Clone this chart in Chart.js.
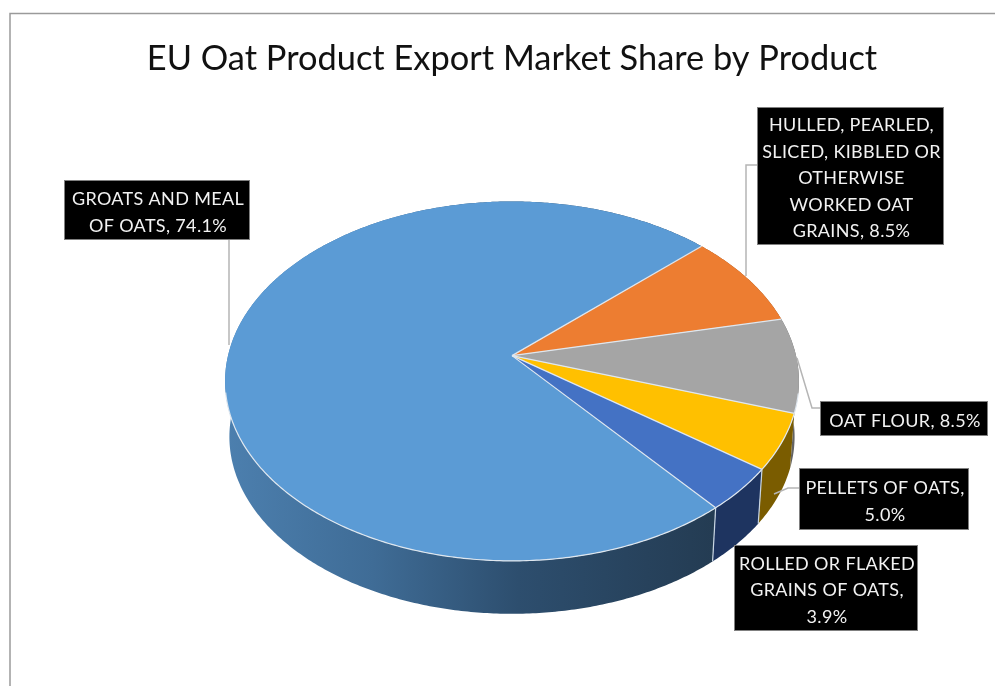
<!DOCTYPE html>
<html>
<head>
<meta charset="utf-8">
<style>
  html, body { margin: 0; background: #fff; }
  canvas { display: block; }
</style>
<script src="https://cdn.jsdelivr.net/npm/chart.js@4/dist/chart.umd.min.js"></script>
</head>
<body>
<canvas id="chart" width="995" height="686"></canvas>
<script>
const TITLE = "EU Oat Product Export Market Share by Product";

const categories = [
  "GROATS AND MEAL OF OATS",
  "HULLED, PEARLED, SLICED, KIBBLED OR OTHERWISE WORKED OAT GRAINS",
  "OAT FLOUR",
  "PELLETS OF OATS",
  "ROLLED OR FLAKED GRAINS OF OATS",
];
const shares = [74.1, 8.5, 8.5, 5.0, 3.9];

// label wrapping as in the original, {v} is replaced by the share
const labelLines = [
  ["GROATS AND MEAL", "OF OATS, {v}"],
  ["HULLED, PEARLED,", "SLICED, KIBBLED OR", "OTHERWISE", "WORKED OAT", "GRAINS, {v}"],
  ["OAT FLOUR, {v}"],
  ["PELLETS OF OATS,", "{v}"],
  ["ROLLED OR FLAKED", "GRAINS OF OATS,", "{v}"],
];

const topColors = ["#5B9BD5", "#ED7D31", "#A5A5A5", "#FFC000", "#4472C4"];
const wallColors = [null, "#8a4a1c", "#636363", "#7a5c00", "#1e3460"];

// ---------- layout of the callouts ----------

const boxes = [
  { x: 65,  y: 181, w: 184, h: 58 },
  { x: 758, y: 108, w: 185, h: 136 },
  { x: 821, y: 402, w: 166, h: 33 },
  { x: 800, y: 469, w: 168, h: 60 },
  { x: 735, y: 546, w: 182, h: 84 },
];
const leaders = [
  [[229, 239], [229, 345]],
  [[757, 165], [746, 165], [746, 276]],
  [[797, 358], [812, 408], [821, 408]],
  [[774, 494], [788, 488], [800, 488]],
  [],
];

// ---------- 3D look ----------

const PERSPECTIVE = 0.142;  // near edge bigger than far edge
const SQUASH = 0.62;        // tilt of the disc
const ROTATION = 140.3;     // first slice angle, degrees
const LOW_SCALE = 0.985;    // lower rim is a bit smaller
const LOW_DROP = 56;        // and this many px further down

function project(arc, angle, low) {
  const u = Math.cos(angle), v = Math.sin(angle);
  const w = 1 / (1 - PERSPECTIVE * v);
  const r = arc.outerRadius;
  const x = r * u * w, y = r * SQUASH * v * w;
  if (low) return [arc.x + x * LOW_SCALE, arc.y + y * LOW_SCALE + LOW_DROP];
  return [arc.x + x, arc.y + y];
}

function rimAngles(arc) {
  const out = [];
  const n = Math.max(2, Math.ceil((arc.endAngle - arc.startAngle) / 0.01));
  for (let i = 0; i <= n; i++) out.push(arc.startAngle + (arc.endAngle - arc.startAngle) * i / n);
  return out;
}

function rimPoints(arc, low) {
  return rimAngles(arc).map(a => project(arc, a, low));
}

function tracePath(ctx, pts) {
  ctx.beginPath();
  pts.forEach((p, i) => (i ? ctx.lineTo(p[0], p[1]) : ctx.moveTo(p[0], p[1])));
}

const pie3d = {
  id: "pie3d",
  beforeDraw(chart) {
    const ctx = chart.ctx;
    ctx.save();
    ctx.strokeStyle = "#9a9a9a";
    ctx.lineWidth = 1.5;
    ctx.strokeRect(10, 13.5, 1100, 1100);
    ctx.restore();
  },
  // the arcs come from the doughnut controller, only the painting is replaced
  beforeDatasetDraw(chart, args) {
    const ctx = chart.ctx;
    const arcs = args.meta.data;
    ctx.save();

    const grad = ctx.createLinearGradient(228, 0, 712, 0);
    grad.addColorStop(0, "#4c7fae");
    grad.addColorStop(0.3, "#3f6c96");
    grad.addColorStop(0.6, "#2d4e6e");
    grad.addColorStop(1, "#243c53");

    arcs.forEach((arc, i) => {
      tracePath(ctx, rimPoints(arc, false).concat(rimPoints(arc, true).reverse()));
      ctx.closePath();
      ctx.fillStyle = wallColors[i] || grad;
      ctx.fill();
    });

    // seams between wall pieces
    ctx.strokeStyle = "#c9d6e3";
    ctx.lineWidth = 1.2;
    arcs.forEach(arc => {
      if (Math.sin(arc.startAngle) <= 0.4) return;
      tracePath(ctx, [project(arc, arc.startAngle, false), project(arc, arc.startAngle, true)]);
      ctx.stroke();
    });

    arcs.forEach(arc => {
      tracePath(ctx, [[arc.x, arc.y]].concat(rimPoints(arc, false)));
      ctx.closePath();
      ctx.fillStyle = arc.options.backgroundColor;
      ctx.fill();
    });

    // light edges: the spokes and the front of the rim only
    ctx.strokeStyle = "#dfe7ef";
    ctx.lineWidth = 1.2;
    ctx.lineJoin = "round";
    arcs.forEach(arc => {
      tracePath(ctx, [[arc.x, arc.y], project(arc, arc.startAngle, false)]);
      ctx.stroke();
      const front = rimAngles(arc).filter(a => Math.sin(a) > 0.2).map(a => project(arc, a, false));
      if (front.length > 1) {
        tracePath(ctx, front);
        ctx.stroke();
      }
    });
    ctx.restore();
    return false;
  },
  afterDraw(chart) {
    const ctx = chart.ctx;
    ctx.save();
    ctx.strokeStyle = "#b5b5b5";
    ctx.lineWidth = 1.5;
    leaders.forEach(line => {
      if (!line.length) return;
      tracePath(ctx, line);
      ctx.stroke();
    });

    ctx.font = "18px Lato";
    ctx.letterSpacing = "0.35px";
    ctx.textAlign = "center";
    ctx.textBaseline = "middle";
    const lineH = 26.5;
    boxes.forEach((b, i) => {
      ctx.fillStyle = "#000";
      ctx.fillRect(b.x, b.y, b.w, b.h);
      ctx.strokeStyle = "#808080";
      ctx.lineWidth = 1;
      ctx.strokeRect(b.x - 0.5, b.y - 0.5, b.w + 1, b.h + 1);
      ctx.fillStyle = "#f2f2f2";
      const lines = labelLines[i];
      const top = b.y + b.h / 2 - lineH * (lines.length - 1) / 2 + 2.5;
      lines.forEach((txt, j) => {
        ctx.fillText(txt.replace("{v}", shares[i].toFixed(1) + "%"), b.x + b.w / 2 + 1, top + j * lineH);
      });
    });
    ctx.restore();
  },
};

new Chart(document.getElementById("chart"), {
  type: "pie",
  data: {
    labels: categories,
    datasets: [{ data: shares, backgroundColor: topColors, borderWidth: 0 }],
  },
  options: {
    responsive: false,
    animation: false,
    rotation: ROTATION,
    radius: 284,
    layout: { padding: { left: 29, bottom: 63 } },
    plugins: {
      legend: { display: false },
      tooltip: { enabled: false },
      title: {
        display: true,
        text: TITLE,
        color: "#111",
        font: { family: "Lato", size: 34.4, weight: "normal" },
        padding: { top: 38, bottom: 9 },
      },
    },
  },
  plugins: [pie3d],
});
</script>
</body>
</html>
